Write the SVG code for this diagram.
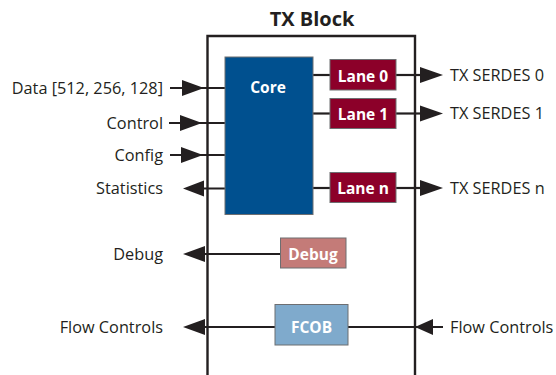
<svg xmlns="http://www.w3.org/2000/svg" width="556" height="375" viewBox="0 0 556 375">
<style>
.lbl{font-family:"Open Sans","Noto Sans","DejaVu Sans",sans-serif;font-size:16.3px;fill:#231f20}
.blk{font-family:"Open Sans","Noto Sans","DejaVu Sans",sans-serif;font-size:15.5px;font-weight:bold;fill:#ffffff;text-anchor:middle}
.ttl{font-family:"Open Sans","Noto Sans","DejaVu Sans",sans-serif;font-size:20px;font-weight:bold;fill:#231f20;text-anchor:middle}
.ln{stroke:#231f20;stroke-width:2.2;fill:none}
.ah{fill:#231f20}
.bx{stroke:#6d6e71;stroke-width:1}
</style>
<rect width="556" height="375" fill="#ffffff"/>
<g id="tx-block">
<path d="M207.5,376 V36 H415 V376" stroke="#231f20" stroke-width="2.4" fill="none"/>
<text class="ttl" x="312" y="26">TX Block</text>
</g>
<g id="connectors">
<line class="ln" x1="170" y1="88" x2="225" y2="88"/>
<polygon class="ah" points="182,80 204,88 182,96"/>
<line class="ln" x1="169" y1="123" x2="225" y2="123"/>
<polygon class="ah" points="180,115 202,123 180,131"/>
<line class="ln" x1="170" y1="155" x2="225" y2="155"/>
<polygon class="ah" points="181,147 203,155 181,163"/>
<line class="ln" x1="190" y1="188.5" x2="225" y2="188.5"/>
<polygon class="ah" points="183,188.5 204,180.5 204,196.5"/>
<line class="ln" x1="313" y1="75" x2="330" y2="75"/>
<line class="ln" x1="313" y1="113.5" x2="330" y2="113.5"/>
<line class="ln" x1="313" y1="188" x2="330" y2="188"/>
<line class="ln" x1="396" y1="75" x2="425" y2="75"/>
<polygon class="ah" points="420,67 443,75 420,83"/>
<line class="ln" x1="396" y1="113.5" x2="425" y2="113.5"/>
<polygon class="ah" points="420,105.5 443,113.5 420,121.5"/>
<line class="ln" x1="396" y1="188" x2="425" y2="188"/>
<polygon class="ah" points="420,180 443,188 420,196"/>
<line class="ln" x1="190" y1="254" x2="280" y2="254"/>
<polygon class="ah" points="183,254 205,246 205,262"/>
<line class="ln" x1="190" y1="327" x2="275" y2="327"/>
<polygon class="ah" points="183,327 205,319 205,335"/>
<line class="ln" x1="348" y1="327" x2="443" y2="327"/>
<polygon class="ah" points="415,327 433,319 433,335"/>
</g>
<g id="core">
<rect class="bx" x="225" y="57" width="88" height="157.5" fill="#00508f"/>
<text class="blk" x="268" y="93">Core</text>
</g>
<g id="lane0">
<rect class="bx" x="330" y="59.5" width="66" height="30.5" fill="#8c0029"/>
<text class="blk" x="363" y="81.5">Lane 0</text>
</g>
<g id="lane1">
<rect class="bx" x="330" y="98.5" width="66" height="30" fill="#8c0029"/>
<text class="blk" x="363" y="120">Lane 1</text>
</g>
<g id="lanen">
<rect class="bx" x="330" y="172.5" width="66" height="30" fill="#8c0029"/>
<text class="blk" x="363" y="194">Lane n</text>
</g>
<g id="debug">
<rect class="bx" x="280.5" y="238" width="65.5" height="30" fill="#c47b78"/>
<text class="blk" x="313" y="259.5">Debug</text>
</g>
<g id="fcob">
<rect class="bx" x="275" y="304.5" width="73" height="40.5" fill="#7faacc"/>
<text class="blk" x="311.5" y="333">FCOB</text>
</g>
<g id="labels">
<text class="lbl" x="163" y="94" text-anchor="end">Data [512, 256, 128]</text>
<text class="lbl" x="163" y="128.5" text-anchor="end">Control</text>
<text class="lbl" x="163" y="160.5" text-anchor="end">Config</text>
<text class="lbl" x="163" y="194" text-anchor="end">Statistics</text>
<text class="lbl" x="163" y="259.5" text-anchor="end">Debug</text>
<text class="lbl" x="163" y="332.5" text-anchor="end">Flow Controls</text>
<text class="lbl" x="450" y="80.5">TX SERDES 0</text>
<text class="lbl" x="450" y="119">TX SERDES 1</text>
<text class="lbl" x="450" y="193.5">TX SERDES n</text>
<text class="lbl" x="450" y="332.5">Flow Controls</text>
</g>
</svg>
